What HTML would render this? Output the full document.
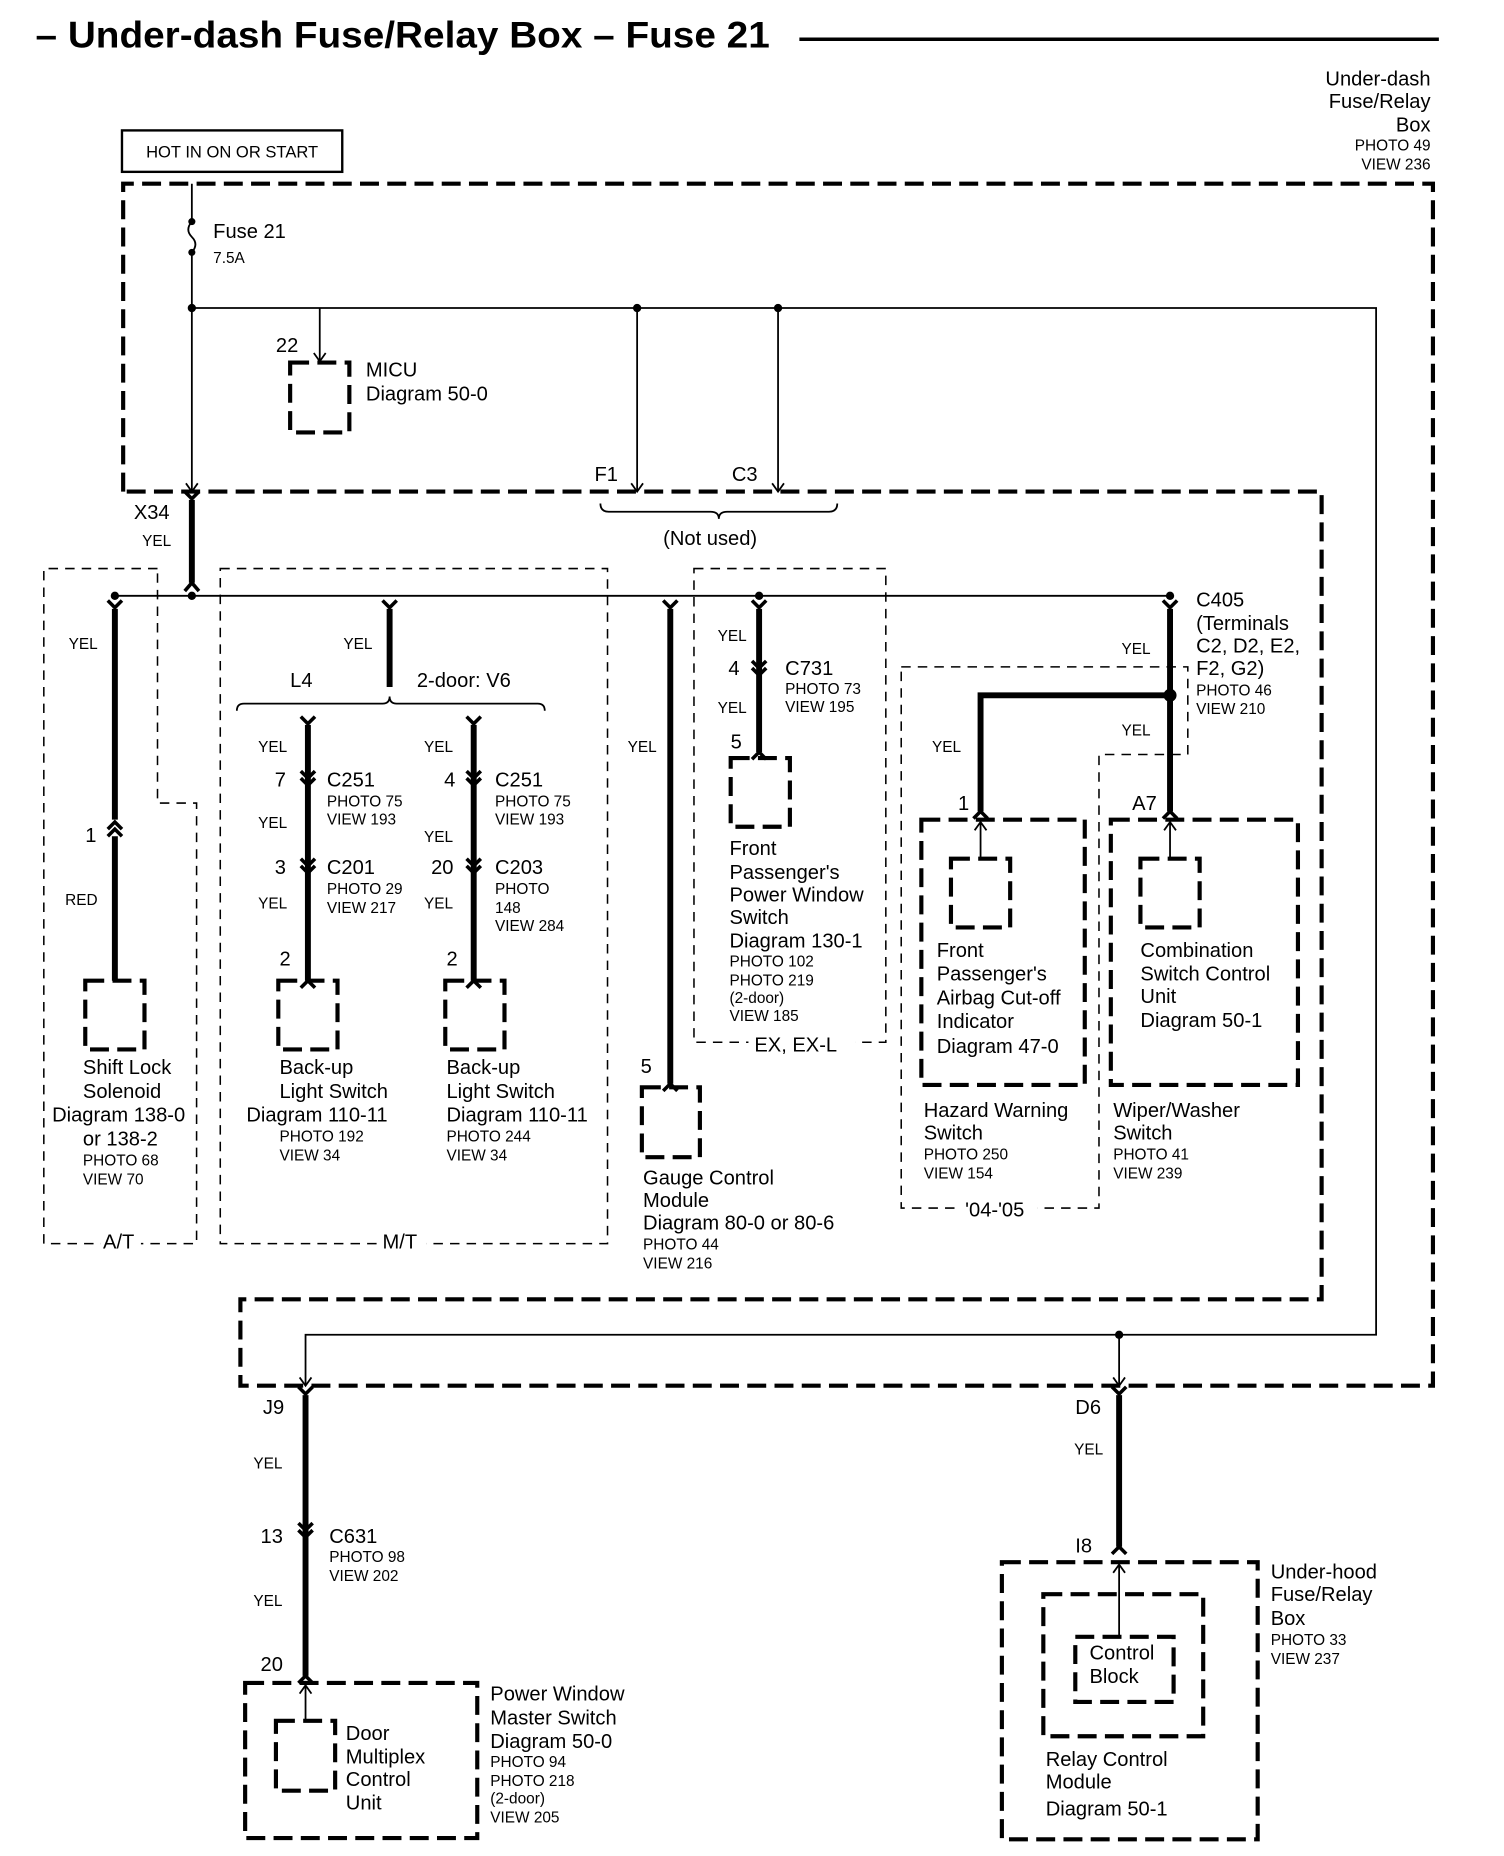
<!DOCTYPE html>
<html><head><meta charset="utf-8"><style>
html,body{margin:0;padding:0;background:#fff}
svg{display:block}
text{font-family:"Liberation Sans",sans-serif;fill:#000}
.L{font-size:17px}.S{font-size:13px}
.tk{fill:none;stroke:#000;stroke-width:3.5;stroke-dasharray:16 7}
.tn{fill:none;stroke:#000;stroke-width:1.3;stroke-dasharray:8 6}
.w{fill:none;stroke:#000;stroke-width:1.5}
.W{fill:none;stroke:#000;stroke-width:5}
.f{fill:none;stroke:#000;stroke-width:3}
.a{fill:none;stroke:#000;stroke-width:1.5}
</style></head><body>
<svg width="1504" height="1856" viewBox="0 0 1270 1567" xmlns="http://www.w3.org/2000/svg">
<text x="30" y="40" font-size="31" font-weight="bold" textLength="620" lengthAdjust="spacingAndGlyphs">– Under-dash Fuse/Relay Box – Fuse 21</text>
<line x1="675" y1="33" x2="1215" y2="33" stroke="#000" stroke-width="3"/>
<g text-anchor="end"><text x="1208" y="72" class="L">Under-dash</text><text x="1208" y="91" class="L">Fuse/Relay</text><text x="1208" y="111" class="L">Box</text><text x="1208" y="127" class="S">PHOTO 49</text><text x="1208" y="143" class="S">VIEW 236</text></g>
<rect x="103" y="110" width="186" height="35" fill="none" stroke="#000" stroke-width="2"/>
<text x="196" y="133" font-size="14" text-anchor="middle">HOT IN ON OR START</text>
<path class="tk" d="M104 415 L104 155 L1210 155 L1210 1170 L203 1170 L203 1097 L1116 1097 L1116 415 Z"/>
<path class="w" d="M162 155 L162 185 M162 215 L162 415"/>
<circle cx="162" cy="187" r="3"/><circle cx="162" cy="213" r="3"/>
<path class="w" d="M162 187 Q156 194 162 200 Q168 206 162 213"/>
<text x="180" y="201" class="L">Fuse 21</text><text x="180" y="222" class="S">7.5A</text>
<path class="a" d="M157 408 L162 415 L167 408"/>
<circle cx="162" cy="260" r="3.5"/>
<path class="w" d="M162 260 L1162 260 L1162 1127 L258 1127 L258 1170 M270 260 L270 305 M538 260 L538 415 M657 260 L657 415 M945 1127 L945 1170"/>
<circle cx="538" cy="260" r="3.5"/><circle cx="657" cy="260" r="3.5"/><circle cx="945" cy="1127" r="3.5"/>
<path class="a" d="M265 298 L270 305 L275 298 M533 408 L538 415 L543 408 M652 408 L657 415 L662 408 M253 1163 L258 1170 L263 1163 M940 1163 L945 1170 L950 1163"/>
<rect x="245" y="306" width="50" height="59" class="tk"/>
<text x="233" y="297" class="L">22</text>
<text x="309" y="318" class="L">MICU</text><text x="309" y="338" class="L">Diagram 50-0</text>
<text x="502" y="406" class="L">F1</text><text x="618" y="406" class="L">C3</text>
<path class="w" d="M507 425 Q507 432 514 432 L600 432 Q607 432 607 438 Q607 432 614 432 L700 432 Q707 432 707 425"/>
<text x="560" y="460" class="L">(Not used)</text>
<text x="113" y="438" class="L">X34</text><text x="120" y="461" class="S">YEL</text>
<path class="W" d="M162 422 L162 492"/>
<path class="f" d="M156 415 L162 421 L168 415 M156 499 L162 492 L168 499"/>
<path class="w" d="M97 503 L988 503"/>
<circle cx="97" cy="503" r="3.5"/><circle cx="162" cy="503" r="3.5"/><circle cx="641" cy="503" r="3.5"/><circle cx="988" cy="503" r="3.5"/>
<path class="tn" d="M133 480 L37 480 L37 1050 L166 1050 L166 678 L133 678 L133 480"/>
<rect x="85" y="1040" width="34" height="18" fill="#fff"/><text x="87" y="1054" class="L">A/T</text>
<path class="W" d="M97 514 L97 692 M97 706 L97 828"/>
<path class="f" d="M91 507 L97 513 L103 507 M91 700 L97 694 L103 700 M91 706 L97 700 L103 706"/>
<text x="58" y="548" class="S">YEL</text><text x="72" y="711" class="L">1</text><text x="55" y="764" class="S">RED</text>
<rect x="72" y="828" width="50" height="58" class="tk"/>
<text x="70" y="907" class="L">Shift Lock</text><text x="70" y="927" class="L">Solenoid</text><text x="44" y="947" class="L">Diagram 138-0</text><text x="70" y="967" class="L">or 138-2</text><text x="70" y="984" class="S">PHOTO 68</text><text x="70" y="1000" class="S">VIEW 70</text>
<rect x="186" y="480" width="327" height="570" class="tn"/>
<rect x="320" y="1040" width="40" height="18" fill="#fff"/><text x="323" y="1054" class="L">M/T</text>
<path class="W" d="M329 514 L329 580"/>
<path class="f" d="M323 507 L329 513 L335 507"/>
<text x="290" y="548" class="S">YEL</text><text x="245" y="580" class="L">L4</text><text x="352" y="580" class="L">2-door: V6</text>
<path class="w" d="M200 600 Q200 594 206 594 L323 594 Q329 594 329 588 Q329 594 335 594 L454 594 Q460 594 460 600"/>
<path class="W" d="M260 612 L260 828 M400 612 L400 828"/>
<path class="f" d="M254 605 L260 611 L266 605 M394 605 L400 611 L406 605"/>
<path class="f" d="M254 651 L260 657 L266 651 M254 657 L260 663 L266 657 M254 725 L260 731 L266 725 M254 731 L260 737 L266 731"/>
<path class="f" d="M394 651 L400 657 L406 651 M394 657 L400 663 L406 657 M394 725 L400 731 L406 725 M394 731 L400 737 L406 731"/>
<path class="f" d="M254 834 L260 828 L266 834 M394 834 L400 828 L406 834"/>
<text x="218" y="635" class="S">YEL</text><text x="232" y="664" class="L">7</text><text x="276" y="664" class="L">C251</text><text x="276" y="681" class="S">PHOTO 75</text><text x="276" y="696" class="S">VIEW 193</text>
<text x="218" y="699" class="S">YEL</text><text x="232" y="738" class="L">3</text><text x="276" y="738" class="L">C201</text><text x="276" y="755" class="S">PHOTO 29</text><text x="276" y="771" class="S">VIEW 217</text><text x="218" y="767" class="S">YEL</text><text x="236" y="815" class="L">2</text>
<text x="358" y="635" class="S">YEL</text><text x="375" y="664" class="L">4</text><text x="418" y="664" class="L">C251</text><text x="418" y="681" class="S">PHOTO 75</text><text x="418" y="696" class="S">VIEW 193</text>
<text x="358" y="711" class="S">YEL</text><text x="364" y="738" class="L">20</text><text x="418" y="738" class="L">C203</text><text x="418" y="755" class="S">PHOTO</text><text x="418" y="771" class="S">148</text><text x="418" y="786" class="S">VIEW 284</text><text x="358" y="767" class="S">YEL</text><text x="377" y="815" class="L">2</text>
<rect x="235" y="828" width="50" height="58" class="tk"/><rect x="376" y="828" width="50" height="58" class="tk"/>
<text x="236" y="907" class="L">Back-up</text><text x="236" y="927" class="L">Light Switch</text><text x="208" y="947" class="L">Diagram 110-11</text><text x="236" y="964" class="S">PHOTO 192</text><text x="236" y="980" class="S">VIEW 34</text>
<text x="377" y="907" class="L">Back-up</text><text x="377" y="927" class="L">Light Switch</text><text x="377" y="947" class="L">Diagram 110-11</text><text x="377" y="964" class="S">PHOTO 244</text><text x="377" y="980" class="S">VIEW 34</text>
<path class="W" d="M566 514 L566 915"/>
<path class="f" d="M560 507 L566 513 L572 507 M560 921 L566 915 L572 921"/>
<text x="530" y="635" class="S">YEL</text><text x="541" y="906" class="L">5</text>
<rect x="542" y="918" width="49" height="59" class="tk"/>
<text x="543" y="1000" class="L">Gauge Control</text><text x="543" y="1019" class="L">Module</text><text x="543" y="1038" class="L">Diagram 80-0 or 80-6</text><text x="543" y="1055" class="S">PHOTO 44</text><text x="543" y="1071" class="S">VIEW 216</text>
<rect x="586" y="480" width="162" height="400" class="tn"/>
<rect x="632" y="870" width="90" height="20" fill="#fff"/><text x="637" y="888" class="L">EX, EX-L</text>
<path class="W" d="M641 514 L641 635"/>
<path class="f" d="M635 507 L641 513 L647 507 M635 558 L641 564 L647 558 M635 564 L641 570 L647 564 M635 641 L641 635 L647 641"/>
<text x="606" y="541" class="S">YEL</text><text x="615" y="570" class="L">4</text><text x="663" y="570" class="L">C731</text><text x="663" y="586" class="S">PHOTO 73</text><text x="663" y="601" class="S">VIEW 195</text><text x="606" y="602" class="S">YEL</text><text x="617" y="632" class="L">5</text>
<rect x="617" y="640" width="50" height="58" class="tk"/>
<text x="616" y="722" class="L">Front</text><text x="616" y="742" class="L">Passenger's</text><text x="616" y="761" class="L">Power Window</text><text x="616" y="780" class="L">Switch</text><text x="616" y="800" class="L">Diagram 130-1</text><text x="616" y="816" class="S">PHOTO 102</text><text x="616" y="832" class="S">PHOTO 219</text><text x="616" y="847" class="S">(2-door)</text><text x="616" y="862" class="S">VIEW 185</text>
<path class="tn" d="M761 563 L1003 563 L1003 637 L928 637 L928 1020 L761 1020 Z"/>
<rect x="810" y="1012" width="66" height="20" fill="#fff"/><text x="815" y="1027" class="L">'04-'05</text>
<path class="W" d="M988 514 L988 685 M988 587 L828 587 L828 685"/>
<path class="f" d="M982 507 L988 513 L994 507 M982 691 L988 685 L994 691 M822 691 L828 685 L834 691"/>
<circle cx="988" cy="587" r="5.5"/>
<text x="1010" y="512" class="L">C405</text><text x="1010" y="532" class="L">(Terminals</text><text x="1010" y="551" class="L">C2, D2, E2,</text><text x="1010" y="570" class="L">F2, G2)</text><text x="1010" y="587" class="S">PHOTO 46</text><text x="1010" y="603" class="S">VIEW 210</text>
<text x="947" y="552" class="S">YEL</text><text x="947" y="621" class="S">YEL</text><text x="787" y="635" class="S">YEL</text>
<text x="809" y="684" class="L">1</text><text x="956" y="684" class="L">A7</text>
<rect x="778" y="692" width="138" height="224" class="tk"/><rect x="938" y="692" width="158" height="224" class="tk"/>
<rect x="803" y="725" width="50" height="58" class="tk"/><rect x="963" y="725" width="50" height="58" class="tk"/>
<path class="a" d="M828 725 L828 694 M823 701 L828 694 L833 701 M988 725 L988 694 M983 701 L988 694 L993 701"/>
<text x="791" y="808" class="L">Front</text><text x="791" y="828" class="L">Passenger's</text><text x="791" y="848" class="L">Airbag Cut-off</text><text x="791" y="868" class="L">Indicator</text><text x="791" y="889" class="L">Diagram 47-0</text>
<text x="963" y="808" class="L">Combination</text><text x="963" y="828" class="L">Switch Control</text><text x="963" y="847" class="L">Unit</text><text x="963" y="867" class="L">Diagram  50-1</text>
<text x="780" y="943" class="L">Hazard Warning</text><text x="780" y="962" class="L">Switch</text><text x="780" y="979" class="S">PHOTO 250</text><text x="780" y="995" class="S">VIEW 154</text>
<text x="940" y="943" class="L">Wiper/Washer</text><text x="940" y="962" class="L">Switch</text><text x="940" y="979" class="S">PHOTO 41</text><text x="940" y="995" class="S">VIEW 239</text>
<text x="222" y="1194" class="L">J9</text>
<path class="W" d="M258 1178 L258 1415"/>
<path class="f" d="M252 1171 L258 1177 L264 1171 M252 1286 L258 1292 L264 1286 M252 1292 L258 1298 L264 1292 M252 1421 L258 1415 L264 1421"/>
<text x="214" y="1240" class="S">YEL</text><text x="220" y="1303" class="L">13</text><text x="278" y="1303" class="L">C631</text><text x="278" y="1319" class="S">PHOTO 98</text><text x="278" y="1335" class="S">VIEW 202</text><text x="214" y="1356" class="S">YEL</text><text x="220" y="1411" class="L">20</text>
<rect x="207" y="1421" width="196" height="131" class="tk"/>
<rect x="233" y="1453" width="50" height="59" class="tk"/>
<path class="a" d="M258 1453 L258 1423 M253 1430 L258 1423 L263 1430"/>
<text x="292" y="1469" class="L">Door</text><text x="292" y="1489" class="L">Multiplex</text><text x="292" y="1508" class="L">Control</text><text x="292" y="1528" class="L">Unit</text>
<text x="414" y="1436" class="L">Power Window</text><text x="414" y="1456" class="L">Master Switch</text><text x="414" y="1476" class="L">Diagram 50-0</text><text x="414" y="1492" class="S">PHOTO 94</text><text x="414" y="1508" class="S">PHOTO 218</text><text x="414" y="1523" class="S">(2-door)</text><text x="414" y="1539" class="S">VIEW 205</text>
<text x="908" y="1194" class="L">D6</text>
<path class="W" d="M945 1178 L945 1306"/>
<path class="f" d="M939 1171 L945 1177 L951 1171 M939 1312 L945 1306 L951 1312"/>
<text x="907" y="1228" class="S">YEL</text><text x="908" y="1311" font-size="17" font-family="Liberation Serif">I8</text>
<rect x="846" y="1319" width="216" height="234" class="tk"/>
<rect x="881" y="1346" width="135" height="120" class="tk"/>
<rect x="908" y="1382" width="83" height="55" class="tk"/>
<path class="a" d="M945 1382 L945 1321 M940 1328 L945 1321 L950 1328"/>
<text x="920" y="1401" class="L">Control</text><text x="920" y="1421" class="L">Block</text>
<text x="883" y="1491" class="L">Relay Control</text><text x="883" y="1510" class="L">Module</text><text x="883" y="1533" class="L">Diagram 50-1</text>
<text x="1073" y="1333" class="L">Under-hood</text><text x="1073" y="1352" class="L">Fuse/Relay</text><text x="1073" y="1372" class="L">Box</text><text x="1073" y="1389" class="S">PHOTO 33</text><text x="1073" y="1405" class="S">VIEW 237</text>
</svg>
</body></html>
